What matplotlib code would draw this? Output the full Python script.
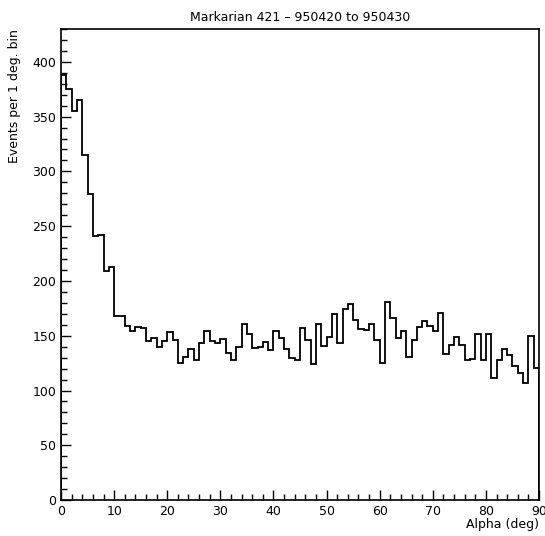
import numpy as np
import matplotlib
matplotlib.use('Agg')
import matplotlib.pyplot as plt
from matplotlib.ticker import MultipleLocator

# Events per 1-degree alpha bin, 0..90 deg
alpha_edges = np.arange(0, 91, 1)
counts = [388, 375, 355, 365, 315, 279, 241, 242, 209, 213,
          168, 168, 159, 154, 158, 157, 145, 148, 140, 145,
          153, 146, 125, 131, 138, 128, 143, 154, 145, 143,
          147, 134, 128, 140, 161, 152, 139, 140, 144, 137,
          154, 148, 138, 130, 128, 157, 146, 124, 161, 141,
          149, 170, 143, 174, 179, 164, 156, 155, 161, 146,
          125, 181, 166, 148, 154, 131, 146, 158, 163, 159,
          154, 171, 133, 142, 149, 142, 128, 129, 152, 128,
          152, 111, 128, 138, 132, 122, 116, 107, 150, 121]

plt.rcParams['font.family'] = 'DejaVu Sans'

fig = plt.figure(figsize=(5.45, 5.36), dpi=100)
ax = fig.add_axes([0.112, 0.067, 0.877, 0.879])

ax.stairs(counts, alpha_edges, baseline=0, color='black', linewidth=1.3)

ax.set_xlim(0, 90)
ax.set_ylim(0, 430)
ax.xaxis.set_major_locator(MultipleLocator(10))
ax.xaxis.set_minor_locator(MultipleLocator(2))
ax.yaxis.set_major_locator(MultipleLocator(50))
ax.yaxis.set_minor_locator(MultipleLocator(10))
ax.tick_params(which='both', direction='in', top=False, right=False,
               labelsize=9, width=1)
ax.tick_params(which='major', length=7)
ax.tick_params(which='minor', length=4)
for s in ax.spines.values():
    s.set_linewidth(1.2)

ax.set_title('Markarian 421 \u2013 950420 to 950430', fontsize=9, pad=6)
ax.set_xlabel('Alpha (deg)', fontsize=9, loc='right', labelpad=0)
ax.set_ylabel('Events per 1 deg. bin', fontsize=9, loc='top', labelpad=8)

fig.savefig('out.png', dpi=100)
